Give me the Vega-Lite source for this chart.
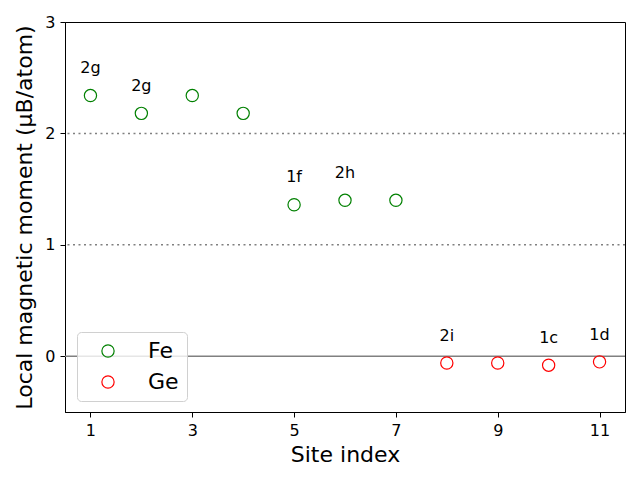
{
  "$schema": "https://vega.github.io/schema/vega-lite/v6.json",
  "width": 560,
  "height": 390,
  "autosize": {"type": "none"},
  "padding": {"left": 65, "top": 22, "right": 15, "bottom": 68},
  "background": "white",
  "config": {
    "font": "DejaVu Sans",
    "view": {"stroke": "black", "strokeWidth": 1},
    "axis": {
      "grid": false,
      "domainColor": "black",
      "tickColor": "black",
      "tickSize": 5,
      "labelFontSize": 16,
      "labelColor": "black",
      "titleFontSize": 22,
      "titleFontWeight": "normal",
      "titleColor": "black",
      "labelFont": "DejaVu Sans",
      "titleFont": "DejaVu Sans"
    }
  },
  "datasets": {
    "sites": [
      {"site": 1, "moment": 2.34, "element": "Fe"},
      {"site": 2, "moment": 2.18, "element": "Fe"},
      {"site": 3, "moment": 2.34, "element": "Fe"},
      {"site": 4, "moment": 2.18, "element": "Fe"},
      {"site": 5, "moment": 1.36, "element": "Fe"},
      {"site": 6, "moment": 1.40, "element": "Fe"},
      {"site": 7, "moment": 1.40, "element": "Fe"},
      {"site": 8, "moment": -0.06, "element": "Ge"},
      {"site": 9, "moment": -0.06, "element": "Ge"},
      {"site": 10, "moment": -0.08, "element": "Ge"},
      {"site": 11, "moment": -0.05, "element": "Ge"}
    ],
    "labels": [
      {"site": 1, "ypos": 2.54, "label": "2g"},
      {"site": 2, "ypos": 2.38, "label": "2g"},
      {"site": 5, "ypos": 1.56, "label": "1f"},
      {"site": 6, "ypos": 1.60, "label": "2h"},
      {"site": 8, "ypos": 0.14, "label": "2i"},
      {"site": 10, "ypos": 0.12, "label": "1c"},
      {"site": 11, "ypos": 0.15, "label": "1d"}
    ],
    "dotted": [{"y": 1}, {"y": 2}],
    "zero": [{"y": 0}]
  },
  "layer": [
    {
      "data": {"name": "dotted"},
      "mark": {"type": "rule", "color": "#808080", "strokeWidth": 1.5, "strokeDash": [2, 3.5]},
      "encoding": {
        "y": {"field": "y", "type": "quantitative", "scale": {"domain": [-0.5, 3], "nice": false, "zero": false}}
      }
    },
    {
      "data": {"name": "zero"},
      "mark": {"type": "rule", "color": "#808080", "strokeWidth": 1.5},
      "encoding": {
        "y": {"field": "y", "type": "quantitative"}
      }
    },
    {
      "data": {"name": "sites"},
      "mark": {"type": "point", "shape": "circle", "filled": false, "size": 150, "strokeWidth": 1.2, "opacity": 1},
      "encoding": {
        "x": {
          "field": "site", "type": "quantitative",
          "scale": {"domain": [0.5, 11.5], "nice": false, "zero": false},
          "axis": {"values": [1, 3, 5, 7, 9, 11], "format": "d", "title": "Site index", "titlePadding": 6, "labelPadding": 5}
        },
        "y": {
          "field": "moment", "type": "quantitative",
          "scale": {"domain": [-0.5, 3], "nice": false, "zero": false},
          "axis": {"values": [0, 1, 2, 3], "format": "d", "title": "Local magnetic moment (μB/atom)", "titlePadding": 8, "labelPadding": 5}
        },
        "color": {
          "field": "element", "type": "nominal",
          "scale": {"domain": ["Fe", "Ge"], "range": ["green", "red"]},
          "legend": {
            "title": null,
            "orient": "none",
            "legendX": 12,
            "legendY": 310,
            "labelFontSize": 22,
            "labelFont": "DejaVu Sans",
            "labelColor": "black",
            "symbolSize": 150,
            "symbolStrokeWidth": 1.2,
            "symbolType": "circle",
            "rowPadding": 9,
            "labelOffset": 29,
            "padding": 8,
            "strokeColor": "#d0d0d0",
            "fillColor": "rgba(255,255,255,0.8)",
            "cornerRadius": 4,
            "symbolOffset": 12
          }
        }
      }
    },
    {
      "data": {"name": "labels"},
      "mark": {"type": "text", "fontSize": 16, "color": "black", "align": "center", "baseline": "alphabetic", "font": "DejaVu Sans"},
      "encoding": {
        "x": {"field": "site", "type": "quantitative"},
        "y": {"field": "ypos", "type": "quantitative"},
        "text": {"field": "label", "type": "nominal"}
      }
    }
  ]
}
